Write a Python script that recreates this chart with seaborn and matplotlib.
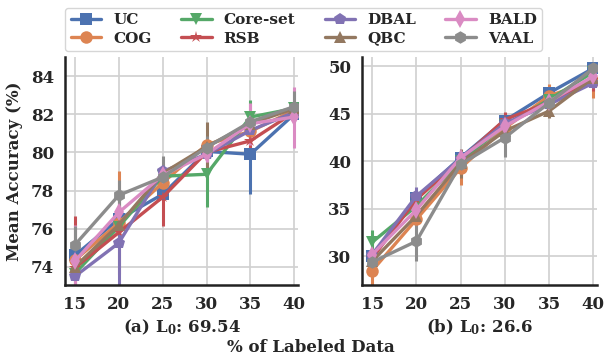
import numpy as np
import pandas as pd
import seaborn as sns
import matplotlib.pyplot as plt

# data
pct = [15, 20, 25, 30, 35, 40]
methods = ["UC", "COG", "Core-set", "RSB", "DBAL", "QBC", "BALD", "VAAL"]
markers = ["s", "o", "v", "*", "p", "^", "d", "h"]

# (a) L0: 69.54
acc_a = {
    "UC":       [74.6, 76.5, 77.8, 80.05, 79.9, 82.0],
    "COG":      [74.35, 76.3, 78.4, 80.4, 81.1, 82.2],
    "Core-set": [73.65, 76.1, 78.75, 78.85, 81.85, 82.3],
    "RSB":      [73.95, 75.8, 77.65, 80.0, 80.6, 82.1],
    "DBAL":     [73.5, 75.25, 79.0, 79.9, 81.15, 82.1],
    "QBC":      [74.0, 76.2, 78.9, 80.3, 81.5, 82.3],
    "BALD":     [74.3, 76.85, 78.8, 79.9, 81.5, 81.85],
    "VAAL":     [75.15, 77.75, 78.7, 80.25, 81.6, 82.4],
}
err_a = {
    "UC":       [0.3, 0.4, 0.3, 0.3, 2.1, 0.3],
    "COG":      [0.3, 2.7, 0.4, 0.3, 0.3, 0.4],
    "Core-set": [0.3, 0.5, 0.3, 1.7, 0.9, 0.3],
    "RSB":      [2.7, 0.6, 1.5, 0.4, 0.4, 0.3],
    "DBAL":     [0.6, 2.6, 0.4, 0.3, 0.4, 0.3],
    "QBC":      [0.3, 0.5, 0.3, 1.3, 0.4, 0.4],
    "BALD":     [1.9, 0.4, 0.3, 0.4, 1.1, 1.6],
    "VAAL":     [1.0, 0.8, 1.1, 0.6, 0.4, 0.8],
}

# (b) L0: 26.6
acc_b = {
    "UC":       [30.0, 36.2, 40.4, 44.3, 47.2, 49.8],
    "COG":      [28.5, 33.9, 39.3, 43.5, 46.9, 48.5],
    "Core-set": [31.5, 35.3, 40.0, 43.8, 46.5, 49.4],
    "RSB":      [29.8, 36.0, 40.2, 44.4, 46.2, 48.6],
    "DBAL":     [30.2, 36.35, 40.3, 44.0, 46.0, 48.25],
    "QBC":      [29.5, 34.3, 39.8, 43.2, 45.3, 48.8],
    "BALD":     [30.2, 34.9, 40.4, 43.7, 46.3, 48.95],
    "VAAL":     [29.4, 31.6, 39.7, 42.5, 46.15, 49.8],
}
err_b = {
    "UC":       [0.5, 0.6, 0.5, 0.5, 0.5, 0.5],
    "COG":      [1.5, 0.6, 1.8, 0.5, 1.2, 1.8],
    "Core-set": [1.3, 0.6, 0.5, 0.5, 0.5, 0.5],
    "RSB":      [0.6, 0.5, 0.5, 0.8, 0.5, 1.2],
    "DBAL":     [0.5, 1.0, 0.5, 0.5, 0.5, 0.5],
    "QBC":      [0.5, 0.6, 1.5, 0.5, 0.7, 0.5],
    "BALD":     [0.5, 0.8, 0.5, 0.5, 0.6, 0.5],
    "VAAL":     [0.6, 2.1, 0.6, 2.0, 0.5, 0.4],
}

sns.set_theme(style="whitegrid", context="notebook")
plt.rcParams["font.family"] = ["DejaVu Serif"]
plt.rcParams["font.weight"] = "bold"
plt.rcParams["mathtext.fontset"] = "dejavuserif"

palette = sns.color_palette("deep", 8)

fig = plt.figure(figsize=(6.04, 3.58), dpi=100)
ax1 = fig.add_axes([0.108, 0.204, 0.385, 0.637])
ax2 = fig.add_axes([0.600, 0.204, 0.388, 0.637])


def draw(ax, acc, err, ylim, yticks, label):
    rows = []
    for m in methods:
        for x, y in zip(pct, acc[m]):
            rows.append({"pct": x, "acc": y, "method": m})
    df = pd.DataFrame(rows)
    for i, m in enumerate(methods):
        ax.errorbar(pct, acc[m], yerr=err[m], fmt="none", ecolor=palette[i],
                    elinewidth=2.2, zorder=2)
    sns.lineplot(data=df, x="pct", y="acc", hue="method", style="method",
                 hue_order=methods, style_order=methods, palette=palette,
                 markers=markers, dashes=False, markersize=9, linewidth=2.4,
                 markeredgewidth=0, ax=ax, legend=(ax is ax1), zorder=3)
    ax.set_xlim(13.9, 40.4)
    ax.set_ylim(*ylim)
    ax.set_xticks(pct)
    ax.set_yticks(yticks)
    ax.tick_params(labelsize=12, pad=2)
    for t in ax.get_xticklabels() + ax.get_yticklabels():
        t.set_fontweight("bold")
    ax.set_xlabel(label, fontsize=12, fontweight="bold", labelpad=3)
    ax.set_ylabel("")
    for s in ["top", "right"]:
        ax.spines[s].set_visible(False)
    for s in ["left", "bottom"]:
        ax.spines[s].set_color("#222222")
        ax.spines[s].set_linewidth(1.8)
    ax.grid(color="#d0d0d0", linewidth=1.2)


draw(ax1, acc_a, err_a, (73.05, 85.0), [74, 76, 78, 80, 82, 84],
     r"(a) L$_\mathbf{0}$: 69.54")
draw(ax2, acc_b, err_b, (27.0, 51.0), [30, 35, 40, 45, 50],
     r"(b) L$_\mathbf{0}$: 26.6")

ax1.set_ylabel("Mean Accuracy (%)", fontsize=12, fontweight="bold", labelpad=6)

handles, labels = ax1.get_legend_handles_labels()
ax1.get_legend().remove()
for h in handles:
    h.set_linewidth(2.4)
fig.legend(handles, labels, loc="upper center", bbox_to_anchor=(0.503, 1.0),
           ncol=4, frameon=True, prop={"weight": "bold", "size": 11},
           columnspacing=1.9, handlelength=2.0, borderpad=0.35,
           labelspacing=0.3, handletextpad=0.8)

fig.text(0.515, 0.028, "% of Labeled Data", ha="center", va="center",
         fontsize=12, fontweight="bold")

plt.savefig("out.png", dpi=100)
